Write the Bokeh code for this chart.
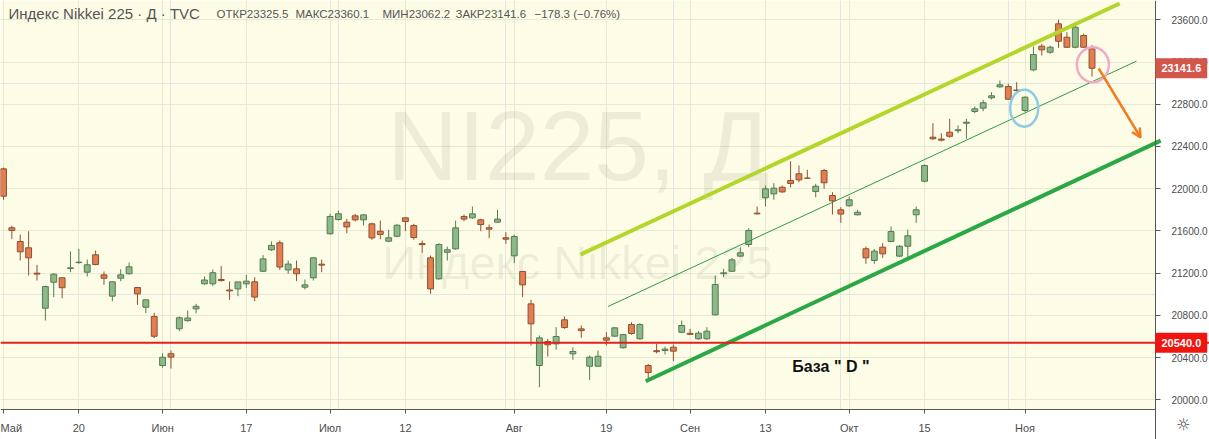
from bokeh.plotting import figure
from bokeh.models import (ColumnDataSource, FixedTicker, NumeralTickFormatter, Label, LinearAxis,
                          Grid, Span, Arrow, OpenHead, Range1d, BoxAnnotation)
from bokeh.embed import file_html
from bokeh.resources import INLINE

# ---------------- data ----------------
dates = [
    "2019-05-07", "2019-05-08", "2019-05-09", "2019-05-10", "2019-05-13", "2019-05-14", "2019-05-15",
    "2019-05-16", "2019-05-17", "2019-05-20", "2019-05-21", "2019-05-22", "2019-05-23", "2019-05-24",
    "2019-05-27", "2019-05-28", "2019-05-29", "2019-05-30", "2019-05-31",
    "2019-06-03", "2019-06-04", "2019-06-05", "2019-06-06", "2019-06-07", "2019-06-10", "2019-06-11",
    "2019-06-12", "2019-06-13", "2019-06-14", "2019-06-17", "2019-06-18", "2019-06-19", "2019-06-20",
    "2019-06-21", "2019-06-24", "2019-06-25", "2019-06-26", "2019-06-27", "2019-06-28",
    "2019-07-01", "2019-07-02", "2019-07-03", "2019-07-04", "2019-07-05", "2019-07-08", "2019-07-09",
    "2019-07-10", "2019-07-11", "2019-07-12", "2019-07-16", "2019-07-17", "2019-07-18", "2019-07-19",
    "2019-07-22", "2019-07-23", "2019-07-24", "2019-07-25", "2019-07-26", "2019-07-29", "2019-07-30",
    "2019-07-31",
    "2019-08-01", "2019-08-02", "2019-08-05", "2019-08-06", "2019-08-07", "2019-08-08", "2019-08-09",
    "2019-08-13", "2019-08-14", "2019-08-15", "2019-08-16", "2019-08-19", "2019-08-20", "2019-08-21",
    "2019-08-22", "2019-08-23", "2019-08-26", "2019-08-27", "2019-08-28", "2019-08-29", "2019-08-30",
    "2019-09-02", "2019-09-03", "2019-09-04", "2019-09-05", "2019-09-06", "2019-09-09", "2019-09-10",
    "2019-09-11", "2019-09-12", "2019-09-13", "2019-09-17", "2019-09-18", "2019-09-19", "2019-09-20",
    "2019-09-24", "2019-09-25", "2019-09-26", "2019-09-27", "2019-09-30",
    "2019-10-01", "2019-10-02", "2019-10-03", "2019-10-04", "2019-10-07", "2019-10-08", "2019-10-09",
    "2019-10-10", "2019-10-11", "2019-10-15", "2019-10-16", "2019-10-17", "2019-10-18", "2019-10-21",
    "2019-10-23", "2019-10-24", "2019-10-25", "2019-10-28", "2019-10-29", "2019-10-30", "2019-10-31",
    "2019-11-01", "2019-11-05", "2019-11-06", "2019-11-07", "2019-11-08", "2019-11-11", "2019-11-12",
    "2019-11-13", "2019-11-14",
]

opens = [
    22188, 21630, 21500, 21440, 21200, 20868, 21114, 21156, 21245, 21300, 21209, 21374, 21184, 20982,
    21152, 21194, 21064, 20877, 20789,
    20325, 20436, 20673, 20750, 20862, 21099, 21099, 21140, 21040, 21051, 21099, 21118, 21218, 21421,
    21487, 21231, 21241, 21067, 21156, 21285,
    21573, 21708, 21683, 21743, 21705, 21667, 21597, 21503, 21550, 21724, 21651, 21480, 21345, 21146,
    21398, 21430, 21737, 21724, 21705, 21630, 21683, 21535,
    21364, 21216, 20909, 20325, 20552, 20530, 20758, 20436, 20672, 20318, 20318, 20587, 20603, 20493,
    20713, 20578, 20325, 20465, 20467, 20498, 20640,
    20630, 20578, 20578, 20805, 21195, 21218, 21361, 21471, 21768, 21914, 21951, 22014, 22077, 22141,
    22100, 21973, 22172, 21935, 21800,
    21838, 21753, 21431, 21320, 21446, 21500, 21361, 21455, 21753, 22071, 22488, 22470, 22535, 22550,
    22620, 22731, 22763, 22861, 22965, 22968, 22935,
    22741, 23126, 23350, 23293, 23562, 23435, 23340, 23451, 23325.5,
]

highs = [
    22200, 21651, 21566, 21597, 21279, 21080, 21200, 21160, 21405, 21430, 21329, 21414, 21216, 21120,
    21237, 21300, 21070, 20950, 20824,
    20441, 20467, 20790, 20846, 20909, 21168, 21234, 21266, 21121, 21120, 21184, 21162, 21370, 21500,
    21509, 21320, 21320, 21140, 21350, 21329,
    21762, 21793, 21715, 21762, 21760, 21677, 21698, 21610, 21667, 21730, 21667, 21509, 21367, 21484,
    21452, 21698, 21755, 21831, 21715, 21661, 21800, 21588,
    21566, 21220, 20947, 20609, 20578, 20688, 20789, 20498, 20704, 20420, 20467, 20640, 20690, 20625,
    20735, 20725, 20341, 20530, 20505, 20524, 20751,
    20672, 20650, 20688, 21178, 21241, 21345, 21446, 21626, 21831, 22030, 22052, 22030, 22260, 22220,
    22179, 22046, 22188, 21967, 21825,
    21926, 21800, 21452, 21430, 21484, 21642, 21465, 21613, 21831, 22230, 22620, 22525, 22662, 22599,
    22662, 22779, 22842, 22914, 23025, 22994, 23009,
    22875, 23347, 23373, 23356, 23600, 23482, 23545, 23470, 23360.1,
]

lows = [
    21895, 21525, 21320, 21177, 21130, 20751, 20972, 20962, 21209, 21290, 21168, 21275, 21090, 20934,
    21124, 21187, 20900, 20820, 20584,
    20303, 20296, 20650, 20740, 20820, 21090, 21076, 21120, 20947, 20982, 21061, 20934, 21210, 21410,
    21231, 21194, 21124, 21045, 21130, 21209,
    21566, 21698, 21578, 21689, 21651, 21516, 21521, 21493, 21540, 21597, 21516, 21389, 21004, 21137,
    21320, 21421, 21692, 21715, 21597, 21531, 21680, 21478,
    21294, 20972, 20514, 20119, 20410, 20474, 20675, 20379, 20587, 20189, 20315, 20514, 20595, 20485,
    20616, 20570, 20183, 20441, 20429, 20366, 20631,
    20619, 20570, 20568, 20800, 21162, 21210, 21351, 21446, 21755, 21831, 21895, 21960, 22014, 22061,
    22094, 21919, 21999, 21755, 21677,
    21830, 21746, 21288, 21288, 21345, 21493, 21351, 21351, 21677, 22060, 22463, 22448, 22482, 22526,
    22473, 22715, 22734, 22845, 22956, 22842, 22914,
    22727, 23113, 23262, 23278, 23335, 23335, 23330, 23335, 23062.2,
]

closes = [
    21929, 21605, 21402, 21345, 21191, 21073, 21190, 21062, 21250, 21304, 21279, 21282, 21152, 21118,
    21184, 21260, 21004, 20947, 20602,
    20403, 20405, 20777, 20775, 20886, 21135, 21204, 21130, 21032, 21117, 21124, 20973, 21335, 21463,
    21258, 21286, 21194, 21089, 21345, 21276,
    21737, 21762, 21638, 21705, 21752, 21534, 21567, 21535, 21654, 21690, 21537, 21470, 21051, 21471,
    21421, 21629, 21712, 21762, 21660, 21617, 21712, 21522,
    21547, 21089, 20720, 20587, 20521, 20600, 20684, 20458, 20655, 20403, 20413, 20565, 20682, 20618,
    20628, 20713, 20258, 20456, 20480, 20461, 20704,
    20620, 20631, 20650, 21092, 21203, 21326, 21393, 21604, 21762, 21999, 22005, 21970, 22050, 22084,
    22099, 22023, 22056, 21885, 21760,
    21895, 21777, 21345, 21408, 21383, 21594, 21455, 21554, 21800, 22220, 22473, 22460, 22497, 22558,
    22630, 22757, 22814, 22880, 22984, 22848, 22930,
    22867, 23271, 23316, 23340, 23397, 23340, 23530, 23340, 23141.6,
]

tick_dates = ["2019-05-07", "2019-05-20", "2019-06-03", "2019-06-17", "2019-07-01", "2019-07-12",
              "2019-08-01", "2019-08-19", "2019-09-02", "2019-09-13", "2019-10-01", "2019-10-15",
              "2019-11-01"]
tick_labels = ["Май", "20", "Июн", "17", "Июл", "12", "Авг", "19", "Сен", "13", "Окт", "15", "Ноя"]
price_ticks = [20000, 20400, 20800, 21200, 21600, 22000, 22400, 22800, 23200, 23600]

base_level = 20540.0
base_text = "База  \" D \""
base_text_at = [94.2, 20315]           # (bar index, price)
last_close = 23141.6
header_title = "Индекс Nikkei 225 · Д · TVC"
header_values = ["ОТКР23325.5", "МАКС23360.1", "МИН23062.2", "ЗАКР23141.6", "−178.3 (−0.76%)"]
watermark_big = "NI225, Д"
watermark_small = "Индекс Nikkei 225"

# trend lines drawn on the chart: anchors as (bar index, price)
upper_x = [68.9, 133.3]
upper_y = [21376, 23754]
mid_x = [72.2, 135.3]
mid_y = [20884, 23208]
lower_x = [76.7, 138.2]
lower_y = [20176, 22456]
arrow_x = [130.8, 135.8]
arrow_y = [23139, 22485]
blue_mark = [121.9, 22763]
pink_mark = [130.1, 23175]

# ---------------- styling / layout ----------------
BG = "#fdfde7"
GRID = "#e8e9d3"
UP_FILL, UP_LINE = "#8cb98a", "#557a4f"
DN_FILL, DN_LINE = "#e37e52", "#8f4f30"
AXIS = "#555555"
FONT = "Liberation Sans"

W, H = 1209, 439
# the whole canvas is the frame; the price scale sits at bar 137.58 (x=1155 px)
# and the time scale at price 19908 (y=409 px)
X0, X1 = -0.358, 144.03
Y0, Y1 = 19624, 23783
PANE_RIGHT = 137.58
PANE_BOTTOM = 19908
PANE_RIGHT_PX = 1155

idx = list(range(len(dates)))
up = [c >= o for o, c in zip(opens, closes)]
src = ColumnDataSource(dict(
    x=idx,
    top=[max(o, c) for o, c in zip(opens, closes)],
    bottom=[min(o, c) for o, c in zip(opens, closes)],
    high=highs, low=lows,
    fill=[UP_FILL if u else DN_FILL for u in up],
    line=[UP_LINE if u else DN_LINE for u in up],
))

p = figure(width=W, height=H, x_range=Range1d(X0, X1), y_range=Range1d(Y0, Y1),
           output_backend="svg", toolbar_location=None, x_axis_location=None,
           y_axis_location=None, min_border=0, title=None)
p.background_fill_color = BG
p.border_fill_color = "#ffffff"
p.outline_line_color = None

tick_idx = [dates.index(d) for d in tick_dates]

# grids
p.add_layout(Grid(dimension=0, ticker=FixedTicker(ticks=tick_idx), grid_line_color=GRID))
p.add_layout(Grid(dimension=1, ticker=FixedTicker(ticks=price_ticks), grid_line_color=GRID))

# white scale areas (right price scale, bottom time scale)
p.add_layout(BoxAnnotation(left=PANE_RIGHT, fill_color="#ffffff", fill_alpha=1, line_alpha=0,
                           level="underlay"))
p.add_layout(BoxAnnotation(top=PANE_BOTTOM, fill_color="#ffffff", fill_alpha=1, line_alpha=0,
                           level="underlay"))

# axes
xaxis = LinearAxis(fixed_location=PANE_BOTTOM, ticker=FixedTicker(ticks=tick_idx),
                   major_label_overrides={i: t for i, t in zip(tick_idx, tick_labels)},
                   bounds=(X0, PANE_RIGHT))
yaxis = LinearAxis(fixed_location=PANE_RIGHT, ticker=FixedTicker(ticks=price_ticks),
                   formatter=NumeralTickFormatter(format="0.0"))
for ax in (xaxis, yaxis):
    ax.axis_line_color = AXIS
    ax.major_tick_line_color = AXIS
    ax.minor_tick_line_color = None
    ax.major_tick_in = 0
    ax.major_label_text_color = "#4d4d4d"
    ax.major_label_text_font = FONT
xaxis.major_label_text_font_size = "11px"
yaxis.major_label_text_font_size = "10px"
xaxis.major_tick_out = 4
xaxis.major_label_standoff = 8
yaxis.major_tick_out = 5
yaxis.major_label_standoff = 11
p.add_layout(xaxis, "below")
p.add_layout(yaxis, "right")

# watermark
p.add_layout(Label(x=578, y=H - 145, x_units="screen", y_units="screen", text=watermark_big,
                   text_font=FONT, text_font_size="98px", text_color="#808070",
                   text_alpha=0.13, text_align="center", text_baseline="middle", level="underlay"))
p.add_layout(Label(x=577, y=H - 262, x_units="screen", y_units="screen", text=watermark_small,
                   text_font=FONT, text_font_size="47px", text_color="#808070",
                   text_alpha=0.13, text_align="center", text_baseline="middle", level="underlay"))

# candles
p.segment(x0="x", y0="low", x1="x", y1="high", line_color="line", line_width=1, source=src)
p.vbar(x="x", width=0.7, top="top", bottom="bottom", fill_color="fill", line_color="line",
       line_width=1, source=src)

# drawings
p.add_layout(Span(location=base_level, dimension="width", line_color="#e3211c", line_width=2))
p.line(upper_x, upper_y, line_color="#b4d62b", line_width=4)
p.line(mid_x, mid_y, line_color="#2f9a46", line_width=1)
p.line(lower_x, lower_y, line_color="#2aa845", line_width=4)
p.add_layout(Arrow(end=OpenHead(size=9, line_color="#f27c22", line_width=2.5),
                   x_start=arrow_x[0], y_start=arrow_y[0], x_end=arrow_x[1], y_end=arrow_y[1],
                   line_color="#f27c22", line_width=2.5))
p.ellipse(x=[blue_mark[0]], y=[blue_mark[1]], width=28, height=37, width_units="screen",
          height_units="screen", fill_color=None, line_color="#8ccbe6", line_width=2.5)
p.ellipse(x=[pink_mark[0]], y=[pink_mark[1]], width=32, height=35, width_units="screen",
          height_units="screen", fill_color=None, line_color="#f3a9c8", line_width=2.5)
p.add_layout(Label(x=base_text_at[0], y=base_text_at[1], text=base_text, text_font=FONT,
                   text_font_size="16px", text_font_style="bold", text_color="#111111",
                   text_baseline="middle"))

# price badges on the price scale
for lvl, col in ((last_close, "#d3564b"), (base_level, "#f0150f")):
    p.add_layout(Label(x=PANE_RIGHT_PX, y=lvl, x_units="screen", text=f"{lvl:.1f}",
                       text_font=FONT, text_font_size="11px", text_font_style="bold",
                       text_color="#ffffff", background_fill_color=col, text_baseline="middle",
                       padding=6))

# header
p.add_layout(Label(x=8, y=H - 13, x_units="screen", y_units="screen", text=header_title,
                   text_font=FONT, text_font_size="15px", text_color="#555555",
                   text_baseline="middle"))
hx = [216, 295, 382, 455, 534]
for x, t in zip(hx, header_values):
    p.add_layout(Label(x=x, y=H - 13, x_units="screen", y_units="screen", text=t,
                       text_font=FONT, text_font_size="11.5px", text_color="#555555",
                       text_baseline="middle"))

# settings icon in the corner
p.add_layout(Label(x=1183, y=H - 424, x_units="screen", y_units="screen", text="☼",
                   text_font="DejaVu Sans", text_font_size="16px", text_color="#444444",
                   text_align="center", text_baseline="middle"))

open("out.html", "w").write(file_html(p, INLINE))
